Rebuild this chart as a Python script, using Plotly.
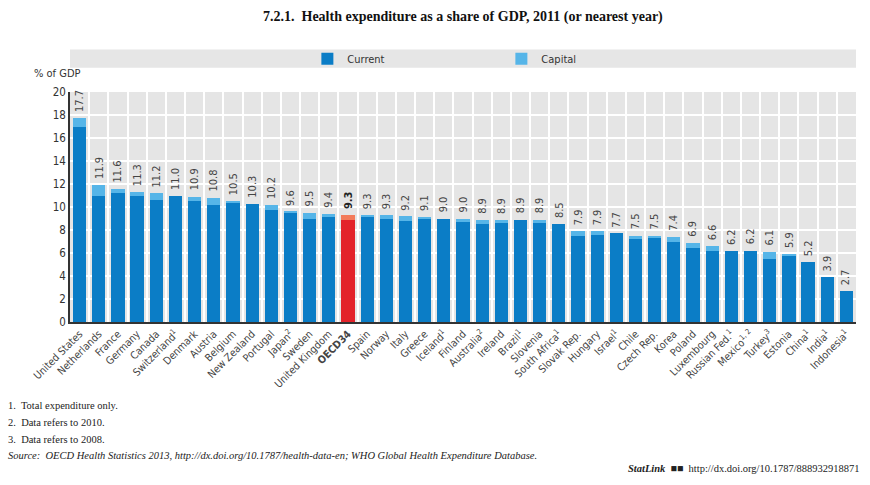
import plotly.graph_objects as go

countries = ["United States", "Netherlands", "France", "Germany", "Canada", "Switzerland<sup>1</sup>",
             "Denmark", "Austria", "Belgium", "New Zealand", "Portugal", "Japan<sup>2</sup>", "Sweden",
             "United Kingdom", "<b>OECD34</b>", "Spain", "Norway", "Italy", "Greece", "Iceland<sup>1</sup>",
             "Finland", "Australia<sup>2</sup>", "Ireland", "Brazil<sup>1</sup>", "Slovenia",
             "South Africa<sup>1</sup>", "Slovak Rep.", "Hungary", "Israel<sup>1</sup>", "Chile",
             "Czech Rep.", "Korea", "Poland", "Luxembourg", "Russian Fed.<sup>1</sup>",
             "Mexico<sup>1, 2</sup>", "Turkey<sup>3</sup>", "Estonia", "China<sup>1</sup>",
             "India<sup>1</sup>", "Indonesia<sup>1</sup>"]
total = [17.7, 11.9, 11.6, 11.3, 11.2, 11.0, 10.9, 10.8, 10.5, 10.3, 10.2, 9.6, 9.5, 9.4, 9.3,
         9.3, 9.3, 9.2, 9.1, 9.0, 9.0, 8.9, 8.9, 8.9, 8.9, 8.5, 7.9, 7.9, 7.7, 7.5, 7.5, 7.4, 6.9,
         6.6, 6.2, 6.2, 6.1, 5.9, 5.2, 3.9, 2.7]
current = [17.0, 11.0, 11.2, 11.0, 10.6, 11.0, 10.5, 10.2, 10.4, 10.3, 9.7, 9.5, 9.0, 9.1, 8.9,
           9.1, 9.0, 8.8, 9.0, 9.0, 8.7, 8.5, 8.6, 8.9, 8.6, 8.5, 7.5, 7.6, 7.7, 7.2, 7.3, 7.0, 6.4,
           6.2, 6.2, 6.2, 5.5, 5.8, 5.2, 3.9, 2.7]
capital = [round(t - c, 1) for t, c in zip(total, current)]
highlight = "<b>OECD34</b>"

BLUE = "#0b7dc6"
LBLUE = "#56b5e8"
RED = "#e3232a"
LRED = "#f37b5a"

cur_colors = [RED if c == highlight else BLUE for c in countries]
cap_colors = [LRED if c == highlight else LBLUE for c in countries]

NARROW = "Liberation Sans Narrow, DejaVu Sans Condensed, Arial"

fig = go.Figure()
fig.add_trace(go.Bar(x=countries, y=current, name="Current", marker=dict(color=cur_colors, line_width=0)))
fig.add_trace(go.Bar(x=countries, y=capital, name="Capital", marker=dict(color=cap_colors, line_width=0)))

for c, t in zip(countries, total):
    bold = c == highlight
    fig.add_annotation(x=c, y=t, text=(f"<b>{t:.1f}</b>" if bold else f"{t:.1f}"), textangle=-90,
                       showarrow=False, yanchor="bottom", yshift=4,
                       font=dict(family=NARROW, size=11, color="#222" if bold else "#444"))

# legend band
fig.add_shape(type="rect", xref="paper", yref="paper", x0=0, x1=1, y0=1.105, y1=1.185,
              fillcolor="#e6e6e6", line_width=0, layer="below")

fig.add_annotation(xref="paper", yref="paper", x=-0.048, y=1.045, text="% of GDP", showarrow=False,
                   xanchor="left", yanchor="bottom",
                   font=dict(family=NARROW, size=11, color="#333"))

fig.add_annotation(xref="paper", yref="paper", x=0.5, y=(485 - 17 - 163) / 230,
                   text="<b>7.2.1.  Health expenditure as a share of GDP, 2011 (or nearest year)</b>",
                   showarrow=False, xanchor="center", yanchor="middle",
                   font=dict(family="Liberation Serif, DejaVu Serif", size=14, color="#111"))

foot_font = dict(family="Liberation Serif, DejaVu Serif", size=10.5, color="#222")
notes = ["1.  Total expenditure only.", "2.  Data refers to 2010.", "3.  Data refers to 2008.",
         "<i>Source:  OECD Health Statistics 2013, http://dx.doi.org/10.1787/health-data-en; WHO Global Health Expenditure Database.</i>"]
note_y = [405, 422, 439, 455]
for txt, py in zip(notes, note_y):
    fig.add_annotation(xref="paper", yref="paper", x=(6 - 70) / 786, y=(485 - py - 163) / 230,
                       text=txt, showarrow=False, xanchor="left", yanchor="middle", font=foot_font)
fig.add_annotation(xref="paper", yref="paper", x=(862 - 70) / 786, y=(485 - 468 - 163) / 230,
                   text="<b><i>StatLink</i></b>  ■■  http://dx.doi.org/10.1787/888932918871",
                   showarrow=False, xanchor="right", yanchor="middle", font=foot_font)

fig.update_layout(
    width=870, height=485,
    margin=dict(l=70, r=14, t=92, b=163),
    barmode="stack", bargap=0.31,
    plot_bgcolor="#e5e5e5", paper_bgcolor="white",
    font=dict(family=NARROW, size=11, color="#333"),
    legend=dict(orientation="h", x=0.302, y=1.145, xanchor="left", yanchor="middle",
                bgcolor="rgba(0,0,0,0)", entrywidth=149, entrywidthmode="pixels",
                font=dict(size=11, color="#333"), traceorder="normal"),
    xaxis=dict(type="category", tickson="boundaries", showgrid=True, gridcolor="white", gridwidth=2,
               tickangle=-45, tickfont=dict(size=10.5, color="#444"), showline=True,
               linecolor="#333", linewidth=1.5, ticks="", range=[-0.5, len(countries) - 0.5]),
    yaxis=dict(range=[0, 20], dtick=2, showgrid=True, gridcolor="white", gridwidth=2,
               showline=True, linecolor="#333", linewidth=1.5, ticks="", zeroline=False,
               tickfont=dict(size=11.5, color="#333")),
)

fig.write_html("out.html")
